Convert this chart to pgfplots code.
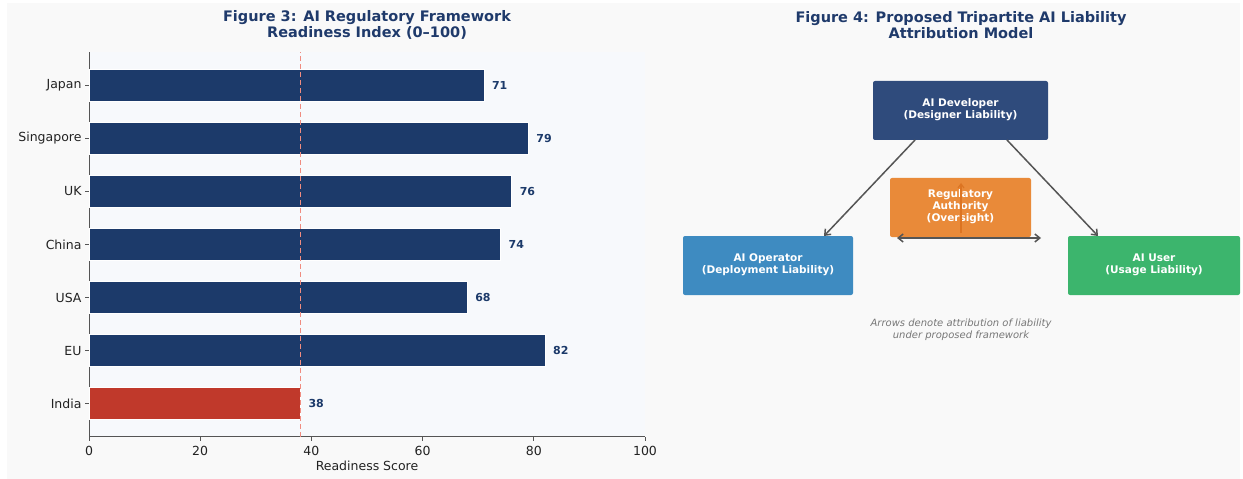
\documentclass[border=0pt]{standalone}
\usepackage{pgfplots}
\pgfplotsset{compat=1.18}
\usepackage{fontspec}
\setmainfont{DejaVu Sans}
\usetikzlibrary{arrows.meta}
\definecolor{navy}{HTML}{1C3A6A}
\definecolor{indiared}{HTML}{C0392B}
\definecolor{titlec}{HTML}{1F3A6B}
\definecolor{figbg}{HTML}{F9F9F9}
\definecolor{axbg}{HTML}{F7F9FC}
\definecolor{spine}{HTML}{555555}
\definecolor{tickc}{HTML}{222222}
\definecolor{dashc}{HTML}{F08C80}
\definecolor{devc}{HTML}{2F4B7C}
\definecolor{regc}{HTML}{E98A39}
\definecolor{regdark}{HTML}{DC7422}
\definecolor{opc}{HTML}{3E8BC1}
\definecolor{userc}{HTML}{3CB56D}
\definecolor{arrowc}{HTML}{555555}
\definecolor{capc}{HTML}{777777}
\begin{document}
\begin{tikzpicture}[x=1pt,y=1pt]
\fill[white] (0,0) rectangle (1243,479);
\fill[figbg] (7,0) rectangle (1240,476);
\node[font=\fontsize{14.5}{16}\selectfont\bfseries, text=titlec, align=center] at (367,454) {Figure 3: AI Regulatory Framework\\Readiness Index (0–100)};
\node[font=\fontsize{14.5}{16}\selectfont\bfseries, text=titlec, align=center] at (961,454) {Figure 4: Proposed Tripartite AI Liability\\Attribution Model};
\begin{axis}[
  at={(89pt,42pt)}, anchor=south west, scale only axis,
  width=556pt, height=385pt,
  xmin=0, xmax=100, ymin=-0.63, ymax=6.63,
  xtick={0,20,...,100}, ytick={0,...,6},
  yticklabels={India,EU,USA,China,UK,Singapore,Japan},
  axis x line*=bottom, axis y line*=left,
  axis line style={draw=spine, line width=1pt, -},
  tick align=outside, major tick length=4pt,
  tick style={draw=spine, line width=0.8pt},
  axis background/.style={fill=axbg},
  tick label style={font=\fontsize{12.5}{14}\selectfont, text=tickc},
  xticklabel style={yshift=-1.5pt},
  /pgf/number format/assume math mode=true,
  xlabel={Readiness Score},
  xlabel style={font=\fontsize{12.5}{14}\selectfont, text=tickc, yshift=1pt},
  clip=false,
]
\addplot[xbar, bar width=0.6, bar shift=0pt, fill=navy, draw=white, line width=0.5pt,
  nodes near coords, point meta=x,
  every node near coord/.append style={font=\fontsize{11}{12}\selectfont\bfseries, text=navy, anchor=west, inner sep=0pt, xshift=8pt}]
  coordinates {(82,1) (68,2) (74,3) (76,4) (79,5) (71,6)};
\addplot[xbar, bar width=0.6, bar shift=0pt, fill=indiared, draw=white, line width=0.5pt,
  nodes near coords, point meta=x,
  every node near coord/.append style={font=\fontsize{11}{12}\selectfont\bfseries, text=navy, anchor=west, inner sep=0pt, xshift=8pt}]
  coordinates {(38,0)};
\addplot[dashc, line width=1.2pt, dash pattern=on 5pt off 3pt] coordinates {(38,-0.63) (38,6.63)};
\end{axis}
\begin{axis}[
  at={(665pt,0pt)}, anchor=south west, scale only axis,
  width=578pt, height=479pt,
  xmin=665, xmax=1243, ymin=0, ymax=479, y dir=reverse,
  hide axis, clip=false,
]
\addplot[fill=devc, draw=none, rounded corners=2pt] coordinates {(873,81) (1048,81) (1048,140) (873,140)} -- cycle;
\addplot[fill=regc, draw=none, rounded corners=2pt] coordinates {(890,178) (1031,178) (1031,237) (890,237)} -- cycle;
\addplot[fill=opc, draw=none, rounded corners=2pt] coordinates {(683,236) (853,236) (853,295) (683,295)} -- cycle;
\addplot[fill=userc, draw=none, rounded corners=2pt] coordinates {(1068,236) (1240,236) (1240,295) (1068,295)} -- cycle;
\addplot[arrowc, line width=1.5pt, -{Straight Barb[length=5pt,width=8pt]}] coordinates {(915,140) (824,236)};
\addplot[arrowc, line width=1.5pt, -{Straight Barb[length=5pt,width=8pt]}] coordinates {(1007,140) (1098,236)};
\addplot[arrowc, line width=1.5pt, {Straight Barb[length=5pt,width=8pt]}-{Straight Barb[length=5pt,width=8pt]}] coordinates {(897,238) (1041,238)};
\node[font=\fontsize{10.5}{12}\selectfont\bfseries, text=white, align=center] at (axis cs:960.5,110) {AI Developer\\(Designer Liability)};
\node[font=\fontsize{10.5}{12}\selectfont\bfseries, text=white, align=center] at (axis cs:960.5,207) {Regulatory\\Authority\\(Oversight)};
\node[font=\fontsize{10.5}{12}\selectfont\bfseries, text=white, align=center] at (axis cs:768,265) {AI Operator\\(Deployment Liability)};
\node[font=\fontsize{10.5}{12}\selectfont\bfseries, text=white, align=center] at (axis cs:1154,265) {AI User\\(Usage Liability)};
\addplot[regdark, line width=1.2pt, -{Straight Barb[length=4pt,width=6pt]}] coordinates {(961,233) (961,183)};
\node[font=\fontsize{10}{12}\selectfont\itshape, text=capc, align=center] at (axis cs:961,330) {Arrows denote attribution of liability\\under proposed framework};
\end{axis}
\end{tikzpicture}
\end{document}
